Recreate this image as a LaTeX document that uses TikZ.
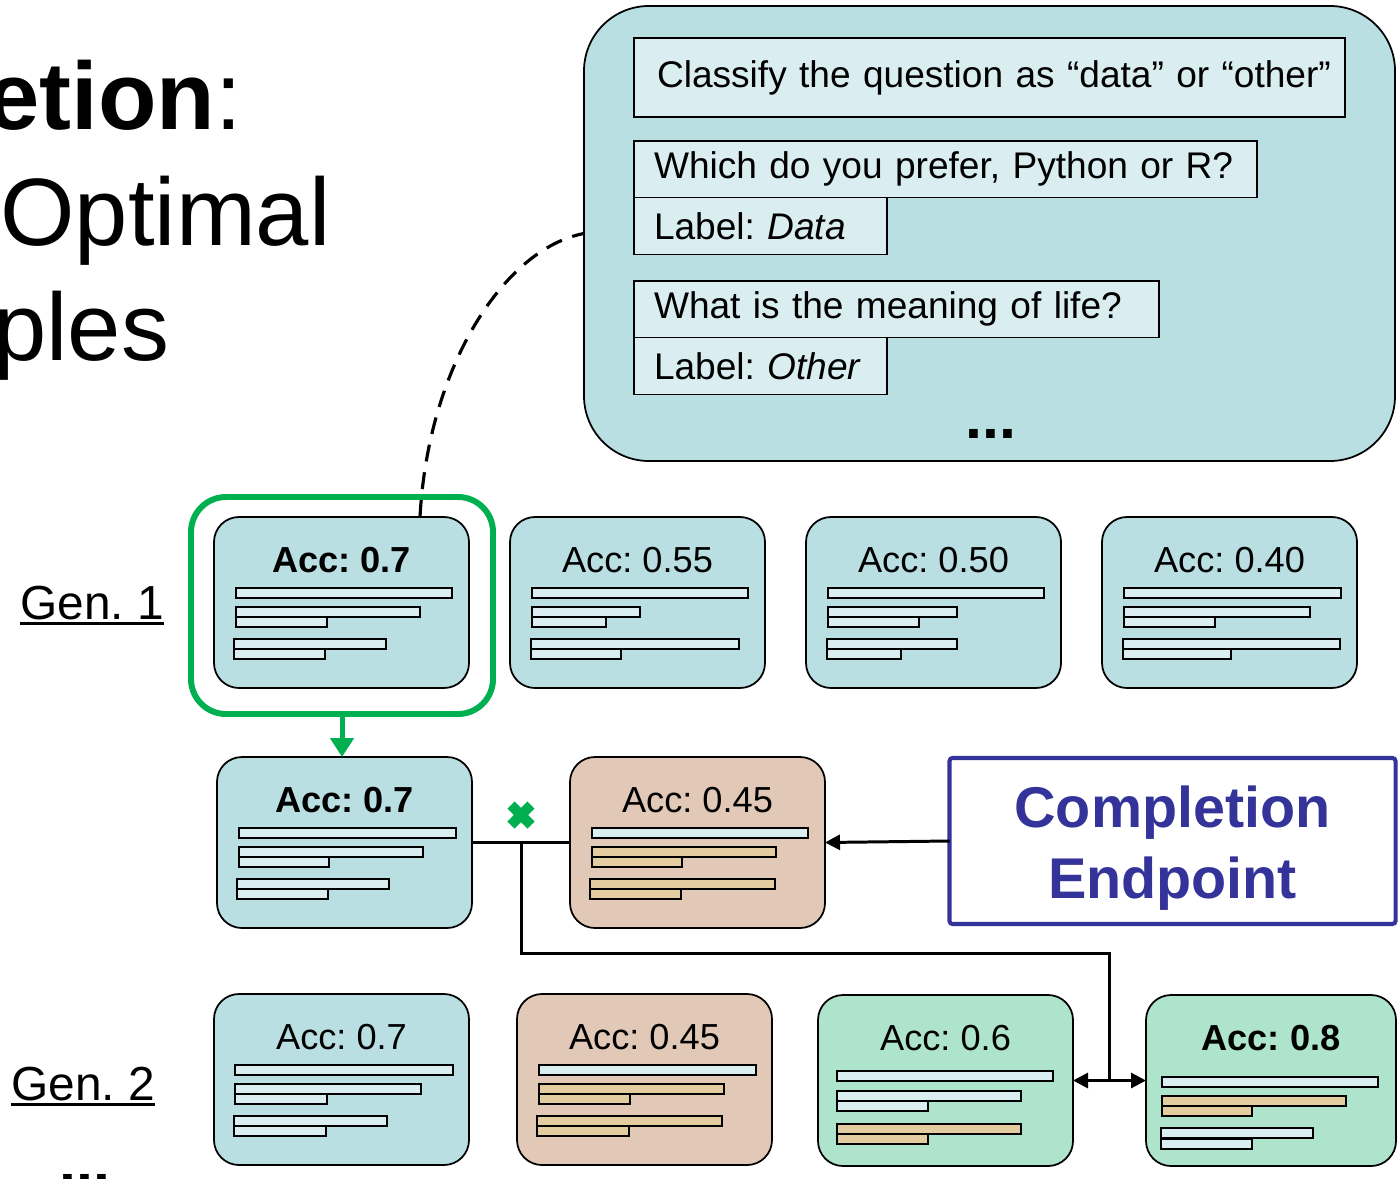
\documentclass[tikz,border=0pt]{standalone}
\usepackage{fontspec}
\setmainfont{Liberation Sans}
\usetikzlibrary{arrows.meta,positioning,calc}
\frenchspacing

\definecolor{cardblue}{HTML}{B9DFE3}
\definecolor{cardtan}{HTML}{E2C9B7}
\definecolor{cardgreen}{HTML}{AEE3CC}
\definecolor{barblue}{HTML}{DAEEF1}
\definecolor{bartan}{HTML}{E3CDA0}
\definecolor{pickgreen}{HTML}{00B050}
\definecolor{epblue}{HTML}{333399}

\newcommand{\accfont}{\fontsize{20.6}{24}\selectfont}
\newcommand{\genul}[1]{\setbox0\hbox{#1}\rlap{\rule[-3.4pt]{\wd0}{1.7pt}}\box0}
% text lines inside a card: x0/y0/x1/colour, measured from the card's top left
\newcommand{\cardbars}[2]{%
  \foreach \xa/\ya/\xb/\bc in {#2}
    \draw[txtbar,fill=\bc] ($(#1.north west)+(\xa,\ya)$) rectangle ++(\xb-\xa,10);}

\begin{document}
\begin{tikzpicture}[x=0.2mm,y=-0.2mm,
card/.style={draw,rounded corners=5mm,line width=1pt,minimum width=51mm,minimum height=34.2mm,inner sep=0pt,outer sep=0pt,text height=0pt,text depth=12.2mm,font=\accfont},
txtbar/.style={draw,line width=0.8pt},
prompt/.style={draw,fill=cardblue,rounded corners=13mm,line width=1pt,minimum width=162.2mm,minimum height=91mm,outer sep=0pt},
pline/.style={draw,fill=barblue,line width=0.8pt,anchor=north west,align=left,inner xsep=4mm,inner ysep=0pt,outer sep=0pt,font=\fontsize{21.1}{25}\selectfont},
gen/.style={anchor=base west,inner sep=0pt,font=\fontsize{27.2}{32}\selectfont},
headline/.style={anchor=base west,inner sep=0pt,font=\fontsize{54.5}{64}\selectfont},
ellip/.style={anchor=base,inner sep=0pt,font=\fontsize{34.6}{40}\selectfont\bfseries},
endpoint/.style={draw=epblue,line width=2.3pt,minimum width=89.2mm,minimum height=33.2mm,rounded corners=0.6mm,outer sep=0pt},
eptext/.style={text=epblue,align=center,yshift=-1.4mm,font=\fontsize{32.7}{40}\selectfont\bfseries},
pick/.style={draw=pickgreen,line width=3.4pt,rounded corners=7mm,minimum width=60.4mm,minimum height=43.4mm},
conn/.style={line width=1.7pt},
arr/.style={-{Triangle[length=3mm,width=3mm]}},
dashline/.style={line width=1.8pt,dash pattern=on 3.4mm off 2.2mm}
]
\useasboundingbox (0,0) rectangle (1398,1178);
\clip (0,0) rectangle (1398,1178);

% slide title, cut by the left edge
\node[headline] (ttl1) at (-14,130) {\textbf{etion}:};
\node[headline] (ttl2) at (0,245) {Optimal};
\node[headline] (ttl3) at (-7,360) {ples};

% few-shot prompt
\node[prompt] (prompt) at (989.5,233.5) {};
\node[pline,text width=133mm,inner xsep=4.6mm,minimum height=15.8mm] (instr) at (634,38) {\mbox{Classify the question as “data” or “other”}};
\node[pline,text width=116.6mm,minimum height=11.3mm] (q1) at (634,141) {\mbox{Which do you prefer, Python or R?}};
\node[pline,text width=42.6mm,minimum height=11.4mm] (a1) at (q1.south west) {\mbox{Label: \textit{Data}}};
\node[pline,text width=97mm,minimum height=11.3mm] (q2) at (634,281) {\mbox{What is the meaning of life?}};
\node[pline,text width=42.6mm,minimum height=11.4mm] (a2) at (q2.south west) {\mbox{Label: \textit{Other}}};
\node[ellip] (pdots) at (991,438) {...};

% generation 1
\node[gen] (gen1) at (20,619) {\genul{Gen. 1}};
\node[pick] (pick) at (342,605.5) {};
\node[card,fill=cardblue,font=\accfont\bfseries] (g1a) at (341.5,602.5) {Acc: 0.7};
\node[card,fill=cardblue] (g1b) at (637.5,602.5) {Acc: 0.55};
\node[card,fill=cardblue] (g1c) at (933.5,602.5) {Acc: 0.50};
\node[card,fill=cardblue] (g1d) at (1229.5,602.5) {Acc: 0.40};
\cardbars{g1a}{22/71/238/barblue,22/90/206/barblue,22/100/113/barblue,20/122/172/barblue,20/132/111/barblue}
\cardbars{g1b}{22/71/238/barblue,22/90/130/barblue,22/100/96/barblue,21/122/229/barblue,21/132/111/barblue}
\cardbars{g1c}{22/71/238/barblue,22/90/151/barblue,22/100/113/barblue,21/122/151/barblue,21/132/95/barblue}
\cardbars{g1d}{22/71/239/barblue,22/90/208/barblue,22/100/113/barblue,21/122/238/barblue,21/132/129/barblue}

% completion step
\node[card,fill=cardblue,font=\accfont\bfseries] (m1) at (344.5,842.5) {Acc: 0.7};
\node[card,fill=cardtan] (m2) at (697.5,842.5) {Acc: 0.45};
\cardbars{m1}{22/71/239/barblue,22/90/206/barblue,22/100/112/barblue,20/122/172/barblue,20/132/111/barblue}
\cardbars{m2}{22/71/238/barblue,22/90/206/bartan,22/100/112/bartan,20/122/205/bartan,20/132/111/bartan}
\node[endpoint,label={[eptext]center:Completion\\Endpoint}] (cep) at (1172.5,841) {};

% generation 2
\node[gen] (gen2) at (11,1100) {\genul{Gen. 2}};
\node[ellip] (gdots) at (85,1183) {...};
\node[card,fill=cardblue] (g2a) at (341.5,1079.5) {Acc: 0.7};
\node[card,fill=cardtan] (g2b) at (644.5,1079.5) {Acc: 0.45};
\node[card,fill=cardgreen] (g2c) at (945.5,1080.5) {Acc: 0.6};
\node[card,fill=cardgreen,minimum width=50mm,font=\accfont\bfseries] (g2d) at (1271,1080.5) {Acc: 0.8};
\cardbars{g2a}{21/71/239/barblue,21/90/207/barblue,21/100/113/barblue,20/122/173/barblue,20/132/112/barblue}
\cardbars{g2b}{22/71/239/barblue,22/90/207/bartan,22/100/113/bartan,20/122/205/bartan,20/132/112/bartan}
\cardbars{g2c}{19/76/235/barblue,19/96/203/barblue,19/106/110/barblue,19/129/203/bartan,19/139/110/bartan}
\cardbars{g2d}{16/82/232/barblue,16/101/200/bartan,16/111/106/bartan,15/133/167/barblue,15/144/106/barblue}

% connectors
\draw[dashline] ($(g1a.north east)+(-49,0)$) .. controls +(8,-150) and +(-80,15) .. (prompt.west);
\draw[pickgreen,line width=1mm,-{Triangle[length=3.8mm,width=4.6mm]}] (pick.south) -- (pick.south |- m1.north);
\draw[conn] (m1.east) -- (m2.west);
\coordinate (split) at ($(m1.east)!0.5!(m2.west)$);
\coordinate (fork) at ($(g2c.east)!0.5!(g2d.west)$);
\draw[conn] (split) -- ++(0,111) -| (fork);
\draw[conn,{Triangle[length=3mm,width=3mm]}-{Triangle[length=3mm,width=3mm]}] (g2c.east) -- (g2d.west);
\draw[conn,arr] (cep.west) -- (m2.east);
\coordinate (reject) at (521,815);
\draw[pickgreen,line width=2mm] ($(reject)+(-10,-10)$) -- ($(reject)+(10,10)$) ($(reject)+(-10,10)$) -- ($(reject)+(10,-10)$);
\end{tikzpicture}
\end{document}
